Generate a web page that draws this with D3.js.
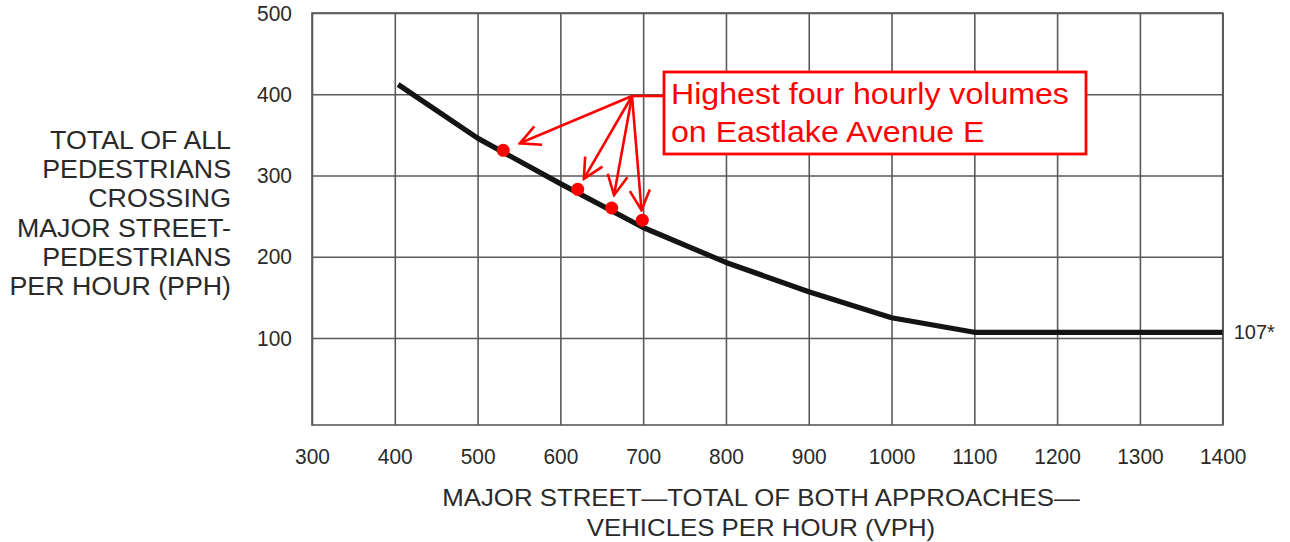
<!DOCTYPE html>
<html>
<head>
<meta charset="utf-8">
<script src="https://cdn.jsdelivr.net/npm/d3@7"></script>
<style>
  html, body { margin: 0; padding: 0; background: #fff; }
  svg { display: block; font-family: "Liberation Sans", Arial, Helvetica, sans-serif; }
</style>
</head>
<body>
<svg id="chart" width="1290" height="542"></svg>
<script>
// Pedestrian four-hour volume warrant curve (vehicles vs. pedestrians per hour)
const curveVph = [404, 500, 600, 700, 800, 900, 1000, 1100, 1400];
const curvePph = [412, 346, 290, 236, 193, 157, 125, 107, 107];

// Four highest hourly counts observed
const countVph = [531, 621, 662, 699];
const countPph = [331, 283, 260, 245];

const xTicks = [300, 400, 500, 600, 700, 800, 900, 1000, 1100, 1200, 1300, 1400];
const yTicks = [100, 200, 300, 400, 500];

const yTitleLines = ["TOTAL OF ALL", "PEDESTRIANS", "CROSSING", "MAJOR STREET-", "PEDESTRIANS", "PER HOUR (PPH)"];
const xTitleLines = ["MAJOR STREET\u2014TOTAL OF BOTH APPROACHES\u2014", "VEHICLES PER HOUR (VPH)"];
const calloutLines = ["Highest four hourly volumes", "on Eastlake Avenue E"];
const floorLabel = "107*";

const svg = d3.select("#chart");
const plotLeft = 312, plotRight = 1222.7, plotTop = 13, plotBottom = 425;

const x = d3.scaleLinear().domain([300, 1400]).range([plotLeft, plotRight]);
const y = d3.scaleLinear().domain([100, 500]).range([338, plotTop]);

const gridColor = "#5a5a5a";
const textColor = "#2a2a2a";

// Stretch a text element horizontally by a factor, keeping its anchor
function widen(sel, factor) {
  sel.each(function() {
    const w = this.getComputedTextLength();
    d3.select(this).attr("textLength", w * factor).attr("lengthAdjust", "spacingAndGlyphs");
  });
}

// Vertical grid + x tick labels
const xAxis = svg.append("g")
  .attr("transform", `translate(0,${plotBottom})`)
  .call(d3.axisBottom(x).tickValues(xTicks).tickFormat(d3.format("d"))
    .tickSizeInner(-(plotBottom - plotTop)).tickSizeOuter(0).tickPadding(23));
xAxis.select(".domain").remove();
xAxis.selectAll(".tick line").attr("stroke", gridColor).attr("stroke-width", 1.6);
xAxis.selectAll(".tick text").attr("fill", textColor).attr("font-size", 22)
  .attr("font-family", "Liberation Sans, Arial, sans-serif")
  .call(widen, 0.95);

// Horizontal grid + y tick labels
const yAxis = svg.append("g")
  .attr("transform", `translate(${plotLeft},0)`)
  .call(d3.axisLeft(y).tickValues(yTicks).tickFormat(d3.format("d"))
    .tickSizeInner(-(plotRight - plotLeft)).tickSizeOuter(0).tickPadding(20));
yAxis.select(".domain").remove();
yAxis.selectAll(".tick line").attr("stroke", gridColor).attr("stroke-width", 1.6);
yAxis.selectAll(".tick text").attr("fill", textColor).attr("font-size", 22)
  .attr("font-family", "Liberation Sans, Arial, sans-serif")
  .call(widen, 0.95);

// Plot frame
svg.append("rect")
  .attr("x", plotLeft).attr("y", plotTop)
  .attr("width", plotRight - plotLeft).attr("height", plotBottom - plotTop)
  .attr("fill", "none").attr("stroke", gridColor).attr("stroke-width", 1.6);

// Warrant curve
const curveData = curveVph.map((v, i) => [v, curvePph[i]]);
svg.append("path")
  .datum(curveData)
  .attr("fill", "none")
  .attr("stroke", "#141414")
  .attr("stroke-width", 5.2)
  .attr("stroke-linejoin", "round")
  .attr("d", d3.line().x(d => x(d[0])).y(d => y(d[1])));

// Floor label at the right end of the curve
svg.append("text")
  .attr("x", plotRight + 11).attr("y", y(curvePph[curvePph.length - 1]) + 1)
  .attr("dominant-baseline", "middle")
  .attr("font-size", 20).attr("fill", textColor)
  .text(floorLabel);

// Observed hourly counts
svg.append("g").selectAll("circle")
  .data(countVph.map((v, i) => [v, countPph[i]]))
  .join("circle")
  .attr("cx", d => x(d[0])).attr("cy", d => y(d[1]))
  .attr("r", 6.5).attr("fill", "#ff0000");

// Callout box with arrows to each count
const red = "#ff0000";
const defs = svg.append("defs");
defs.append("marker")
  .attr("id", "chevron")
  .attr("viewBox", "-22 -12 24 24")
  .attr("refX", 0).attr("refY", 0)
  .attr("markerWidth", 24).attr("markerHeight", 24)
  .attr("markerUnits", "userSpaceOnUse")
  .attr("orient", "auto")
  .append("path")
  .attr("d", "M-20,-10 L0,0 L-20,10")
  .attr("fill", "none").attr("stroke", red).attr("stroke-width", 2.6);

const box = { x: 664, y: 72, w: 422, h: 82 };
const hub = [632, 96];

svg.append("line")
  .attr("x1", hub[0]).attr("y1", hub[1]).attr("x2", box.x).attr("y2", hub[1])
  .attr("stroke", red).attr("stroke-width", 2.6);

const gaps = [18, 12, 13, 10];
svg.append("g").selectAll("line")
  .data(countVph.map((v, i) => [x(v), y(countPph[i]), gaps[i]]))
  .join("line")
  .each(function(d) {
    const dx = d[0] - hub[0], dy = d[1] - hub[1];
    const len = Math.hypot(dx, dy);
    const t = (len - d[2]) / len;
    d3.select(this)
      .attr("x1", hub[0]).attr("y1", hub[1])
      .attr("x2", hub[0] + dx * t).attr("y2", hub[1] + dy * t);
  })
  .attr("stroke", red).attr("stroke-width", 2.6)
  .attr("marker-end", "url(#chevron)");

svg.append("rect")
  .attr("x", box.x).attr("y", box.y).attr("width", box.w).attr("height", box.h)
  .attr("fill", "#fff").attr("stroke", red).attr("stroke-width", 2.8);

svg.append("g").selectAll("text")
  .data(calloutLines)
  .join("text")
  .attr("x", box.x + 7).attr("y", (d, i) => box.y + 31.5 + i * 38)
  .attr("font-size", 29).attr("fill", red)
  .text(d => d)
  .call(widen, 1.107);

// Y axis title, right aligned
svg.append("g").selectAll("text")
  .data(yTitleLines)
  .join("text")
  .attr("x", 231).attr("y", (d, i) => 149 + i * 29.2)
  .attr("text-anchor", "end")
  .attr("font-size", 25).attr("fill", textColor)
  .text(d => d)
  .call(widen, 1.07);

// X axis title, centred
svg.append("g").selectAll("text")
  .data(xTitleLines)
  .join("text")
  .attr("x", 761).attr("y", (d, i) => 506 + i * 30)
  .attr("text-anchor", "middle")
  .attr("font-size", 24).attr("fill", textColor)
  .text(d => d)
  .call(widen, 1.075);
</script>
</body>
</html>
